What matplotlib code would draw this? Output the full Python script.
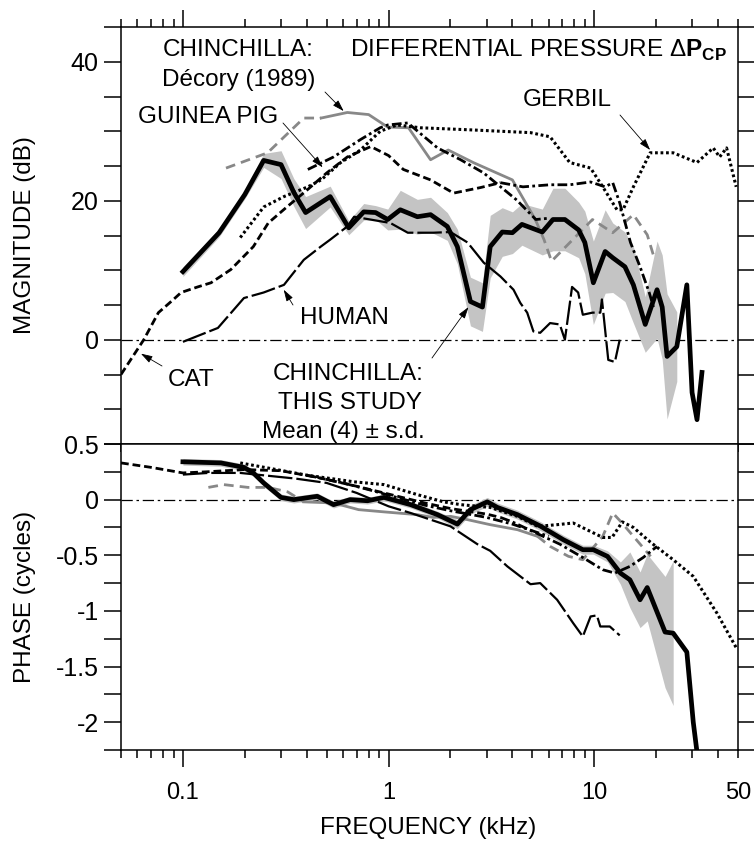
import numpy as np
import matplotlib
matplotlib.use('Agg')
import matplotlib.pyplot as plt
from matplotlib.ticker import LogLocator, FixedLocator, FuncFormatter, MultipleLocator

plt.rcParams['font.family'] = ['Liberation Sans', 'DejaVu Sans']
plt.rcParams['mathtext.fontset'] = 'custom'
plt.rcParams['mathtext.rm'] = 'Liberation Sans'
plt.rcParams['mathtext.bf'] = 'Liberation Sans:bold'
plt.rcParams['axes.unicode_minus'] = False

# ---- chinchilla, this study (mean of 4, +/- s.d.) ----
study_f = [0.1, 0.15, 0.2, 0.247, 0.3, 0.346, 0.395, 0.52, 0.64, 0.757, 0.865, 0.99,
           1.14, 1.38, 1.6, 1.93, 2.16, 2.5, 2.86, 3.12, 3.57, 4.0, 4.45, 5.59, 6.3,
           7.2, 8.4, 9.0, 9.9, 11.3, 12.3, 14.1, 15.5, 17.7, 20.2, 21.4, 22.6, 25.2,
           28.2, 29.9, 31.6, 33.4]
study_db = [9.8, 15.4, 20.9, 25.8, 25.2, 21.2, 18.3, 20.6, 16.1, 18.4, 18.3, 17.3,
            18.7, 17.7, 18.0, 16.3, 13.4, 5.5, 4.7, 13.4, 15.5, 15.4, 16.6, 15.5, 17.3,
            17.3, 15.8, 14.0, 8.2, 12.7, 11.8, 10.5, 7.9, 2.2, 7.2, 4.7, -2.4, -1.0,
            7.9, -7.6, -11.5, -4.7]
study_db_sd = [0.7, 0.6, 0.6, 1.0, 2.0, 2.0, 2.3, 1.5, 1.0, 1.2, 1.0, 1.5,
               2.8, 2.5, 2.5, 2.0, 2.5, 3.5, 3.5, 4.5, 3.5, 3.0, 3.0, 3.3, 4.5,
               4.5, 4.0, 4.5, 6.0, 6.0, 5.0, 5.0, 5.5, 4.0, 7.0, 7.5, 9.0, 5.0,
               np.nan, np.nan, np.nan, np.nan]

study_ph_f = [0.1, 0.153, 0.198, 0.22, 0.247, 0.3, 0.346, 0.45, 0.54, 0.65, 0.79, 0.95,
              1.28, 1.73, 2.16, 2.5, 3.02, 3.38, 4.23, 5.5, 7.07, 8.8, 9.9, 11.6, 13.4,
              14.9, 16.7, 18.1, 22.1, 24.2, 28.2, 30.3, 32.5]
study_ph = [0.34, 0.33, 0.29, 0.24, 0.15, 0.02, 0.0, 0.03, -0.045, 0.0, -0.01, 0.02,
            -0.045, -0.135, -0.22, -0.09, -0.02, -0.07, -0.135, -0.24, -0.36, -0.45, -0.45,
            -0.51, -0.66, -0.72, -0.9, -0.79, -1.19, -1.2, -1.37, -2.0, -2.45]
study_ph_sd = [0.03, 0.03, 0.03, 0.03, 0.03, 0.03, 0.03, 0.03, 0.03, 0.03, 0.03, 0.03,
               0.03, 0.03, 0.04, 0.04, 0.04, 0.04, 0.04, 0.04, 0.04, 0.04, 0.04, 0.05, 0.1,
               0.25, 0.25, 0.3, 0.5, 0.65, np.nan, np.nan, np.nan]

# ---- chinchilla, Decory (1989): dashed / solid / dashed parts ----
dec_lo_f = [0.162, 0.258, 0.387, 0.47]
dec_lo_db = [24.7, 26.9, 31.9, 31.9]
dec_f = [0.47, 0.63, 0.8, 0.99, 1.25, 1.6, 1.95, 2.58, 4.0, 5.17]
dec_db = [31.9, 32.7, 32.4, 30.6, 30.5, 25.9, 27.3, 25.5, 23.0, 17.3]
dec_hi_f = [5.17, 5.7, 6.2, 8.1, 9.8, 12.3, 15.5, 18.1, 19.7]
dec_hi_db = [17.3, 14.4, 11.3, 14.8, 17.3, 15.4, 18.0, 15.1, 11.5]

dec_ph_lo_f = [0.133, 0.158, 0.207, 0.26, 0.323, 0.387]
dec_ph_lo = [0.11, 0.135, 0.11, 0.11, 0.07, -0.02]
dec_ph_f = [0.387, 0.54, 0.715, 0.95, 1.38, 1.65, 2.0, 2.42, 3.12, 4.23, 5.3]
dec_ph = [-0.02, -0.03, -0.09, -0.11, -0.135, -0.16, -0.15, -0.18, -0.225, -0.27, -0.33]
dec_ph_hi_f = [5.3, 6.1, 7.5, 8.8, 11.0, 12.3, 13.5, 18.8]
dec_ph_hi = [-0.33, -0.42, -0.51, -0.54, -0.33, -0.12, -0.2, -0.51]

# ---- cat ----
cat_f = [0.05, 0.0645, 0.076, 0.09, 0.098, 0.118, 0.137, 0.171, 0.22, 0.26, 0.32, 0.4,
         0.5, 0.63, 0.82, 1.0, 1.18, 1.6, 2.07, 2.8, 3.5]
cat_db = [-5.0, 0.0, 3.9, 5.8, 6.8, 7.6, 8.2, 10.1, 13.4, 16.8, 19.1, 21.5,
          24.0, 26.3, 27.8, 26.5, 24.5, 23.0, 21.1, 21.9, 22.6]
cat_hi_f = [3.5, 4.5, 6.1, 7.6, 9.6, 11.3, 12.3, 13.3, 15.0, 16.7, 18.5, 19.4]
cat_hi_db = [22.6, 22.0, 22.3, 22.3, 22.7, 22.0, 22.6, 19.7, 14.0, 10.5, 6.8, 4.7]

cat_ph_f = [0.05, 0.07, 0.1, 0.13, 0.2, 0.3, 0.45, 0.7, 1.0, 1.5, 2.0, 3.0, 3.5]
cat_ph = [0.33, 0.29, 0.24, 0.25, 0.27, 0.26, 0.2, 0.12, 0.05, -0.03, -0.08, -0.13, -0.16]
cat_ph_hi_f = [3.5, 4.0, 5.5, 6.8, 8.8, 11.0, 12.6, 14.9, 17.3, 20.2]
cat_ph_hi = [-0.16, -0.2, -0.32, -0.4, -0.52, -0.63, -0.66, -0.6, -0.52, -0.42]

# ---- gerbil ----
ger_f = [0.19, 0.247, 0.31, 0.405, 0.47, 0.585, 0.73, 0.91, 1.1, 1.43, 2.5, 4.9, 6.1,
         7.6, 9.6, 11.0, 12.9, 13.8, 15.5, 18.7, 24.2, 31.6, 37.9, 40.7, 44.0, 49.0]
ger_db = [14.7, 19.1, 20.6, 22.0, 23.0, 25.5, 27.3, 30.0, 30.9, 30.5, 30.2, 29.8, 29.2,
          25.5, 24.7, 22.0, 18.7, 18.7, 22.0, 26.9, 26.9, 25.5, 27.6, 26.3, 27.6, 22.0]
ger_ph_f = [0.19, 0.4, 0.68, 0.95, 1.38, 1.85, 2.24, 3.12, 4.23, 5.3, 6.6, 7.9, 11.0,
            12.2, 13.7, 15.5, 18.7, 24.2, 30.3, 39.5, 49.0]
ger_ph = [0.33, 0.22, 0.16, 0.135, 0.045, -0.02, -0.045, -0.07, -0.15, -0.24, -0.225,
          -0.21, -0.34, -0.34, -0.2, -0.25, -0.38, -0.54, -0.69, -1.02, -1.33]

# ---- guinea pig ----
gp_f = [0.405, 0.54, 0.73, 0.91, 0.99, 1.24, 1.73, 2.24, 2.9, 4.2, 5.2, 6.1]
gp_db = [24.5, 26.3, 28.8, 30.5, 30.9, 31.2, 27.6, 25.9, 24.0, 20.1, 17.3, 17.5]
gp_ph_f = [0.4, 0.6, 0.8, 1.0, 1.5, 2.0, 3.0, 4.0, 5.0, 6.0]
gp_ph = [0.22, 0.15, 0.09, 0.04, -0.05, -0.1, -0.16, -0.22, -0.28, -0.33]

# ---- human ----
hum_f = [0.1, 0.148, 0.198, 0.247, 0.31, 0.387, 0.468, 0.52, 0.63, 0.68, 1.02, 1.24,
         1.65, 2.0, 2.42, 2.9, 3.5, 4.05, 4.37, 4.72, 5.06, 5.46, 6.1, 6.8, 7.2, 7.8,
         8.35, 8.8, 9.8, 10.7, 10.9, 11.7, 12.6, 13.3]
hum_db = [-0.3, 1.7, 6.0, 6.8, 7.9, 11.5, 13.4, 14.4, 16.3, 17.7, 16.8, 15.4,
          15.4, 15.5, 14.0, 11.1, 9.1, 7.2, 5.3, 3.9, 1.2, 1.0, 2.4, 2.2, 0.0, 7.6,
          6.8, 3.6, 3.9, 3.9, 5.8, -2.9, -3.2, 0.0]
hum_ph_f = [0.1, 0.133, 0.19, 0.35, 0.5, 0.7, 1.0, 1.28, 2.0, 2.7, 3.12, 3.78, 4.9,
            5.46, 6.6, 7.9, 8.8, 9.6, 10.3, 10.7, 11.9, 13.3]
hum_ph = [0.225, 0.24, 0.24, 0.19, 0.15, 0.06, -0.06, -0.12, -0.24, -0.4, -0.46, -0.6,
          -0.76, -0.75, -0.9, -1.11, -1.23, -1.05, -1.04, -1.14, -1.14, -1.22]

W, H = 754, 844


def P(x, y):
    return x / W, 1 - y / H


fig = plt.figure(figsize=(W / 100, H / 100), dpi=100)
ax1 = fig.add_axes([121 / W, 1 - 444 / H, 617 / W, 417 / H])
ax2 = fig.add_axes([121 / W, 1 - 750 / H, 617 / W, 306 / H], sharex=ax1)

GRAY = '#888888'
BAND = '#c4c4c4'

for ax in (ax1, ax2):
    ax.axhline(0, color='black', lw=0.9, dashes=(9, 3, 2, 3), zorder=1)

# magnitude
s = np.array(study_db)
sd = np.array(study_db_sd)
ax1.fill_between(study_f, s - sd, s + sd, color=BAND, lw=0, zorder=2)
ax1.plot(dec_lo_f, dec_lo_db, color=GRAY, lw=2.0, dashes=(3.5, 2.2), zorder=3)
ax1.plot(dec_f, dec_db, color=GRAY, lw=2.0, zorder=3)
ax1.plot(dec_hi_f, dec_hi_db, color=GRAY, lw=2.0, dashes=(3.5, 2.2), zorder=3)
ax1.plot(cat_f, cat_db, color='black', lw=2.0, dashes=(2.8, 1.4), zorder=4)
ax1.plot(cat_hi_f, cat_hi_db, color='black', lw=2.0, dashes=(3.5, 1.2, 1, 1.2), zorder=4)
ax1.plot(ger_f, ger_db, color='black', lw=2.2, dashes=(0.9, 0.9), zorder=4)
ax1.plot(gp_f, gp_db, color='black', lw=2.0, dashes=(3.5, 1.2, 1, 1.2), zorder=4)
ax1.plot(hum_f, hum_db, color='black', lw=1.6, dashes=(11, 1.8), zorder=4)
ax1.plot(study_f, study_db, color='black', lw=3.4, zorder=5)

# phase
p = np.array(study_ph)
psd = np.array(study_ph_sd)
ax2.fill_between(study_ph_f, p - psd, p + psd, color=BAND, lw=0, zorder=2)
ax2.plot(dec_ph_lo_f, dec_ph_lo, color=GRAY, lw=2.0, dashes=(3.5, 2.2), zorder=3)
ax2.plot(dec_ph_f, dec_ph, color=GRAY, lw=2.0, zorder=3)
ax2.plot(dec_ph_hi_f, dec_ph_hi, color=GRAY, lw=2.0, dashes=(3.5, 2.2), zorder=3)
ax2.plot(cat_ph_f, cat_ph, color='black', lw=2.0, dashes=(2.8, 1.4), zorder=4)
ax2.plot(cat_ph_hi_f, cat_ph_hi, color='black', lw=2.0, dashes=(3.5, 1.2, 1, 1.2), zorder=4)
ax2.plot(ger_ph_f, ger_ph, color='black', lw=2.2, dashes=(0.9, 0.9), zorder=4)
ax2.plot(gp_ph_f, gp_ph, color='black', lw=2.0, dashes=(3.5, 1.2, 1, 1.2), zorder=4)
ax2.plot(hum_ph_f, hum_ph, color='black', lw=1.6, dashes=(11, 1.8), zorder=4)
ax2.plot(study_ph_f, study_ph, color='black', lw=3.4, zorder=5)

# axes
ax1.set_xscale('log')
ax1.set_xlim(0.05, 50)
ax1.set_ylim(-15, 45)
ax2.set_ylim(-2.25, 0.5)

for ax in (ax1, ax2):
    for sp in ax.spines.values():
        sp.set_linewidth(1.1)
    ax.xaxis.set_major_locator(FixedLocator([0.1, 1, 10]))
    ax.xaxis.set_minor_locator(LogLocator(base=10, subs=np.arange(2, 10), numticks=20))
    ax.tick_params(axis='x', which='major', direction='out', length=12, width=1.1, pad=11)
    ax.tick_params(axis='x', which='minor', direction='out', length=6, width=1.1, pad=17)
    ax.tick_params(axis='y', which='both', direction='out', length=12, width=1.1,
                   left=True, right=True, labelsize=18, pad=4)

ax1.tick_params(axis='x', which='both', top=True, bottom=True, labelbottom=False)
ax2.tick_params(axis='x', which='both', top=False, bottom=True, labelsize=17)

ax2.xaxis.set_major_formatter(FuncFormatter(lambda v, pos: {0.1: '0.1', 1: '1', 10: '10'}.get(round(v, 3), '')))
ax2.xaxis.set_minor_formatter(FuncFormatter(lambda v, pos: '50' if abs(v - 50) < 0.5 else ''))

ax1.yaxis.set_major_locator(MultipleLocator(5))
ax1.yaxis.set_major_formatter(FuncFormatter(lambda v, pos: '%d' % v if round(v) in (0, 20, 40) else ''))
ax2.yaxis.set_major_locator(MultipleLocator(0.25))


def phase_fmt(v, pos):
    if abs(v * 2 - round(v * 2)) > 1e-6:
        return ''
    if abs(v) < 1e-9:
        return '0'
    return ('%g' % v)


ax2.yaxis.set_major_formatter(FuncFormatter(phase_fmt))

LABFS = 17.5
ax1.set_ylabel('MAGNITUDE (dB)', fontsize=LABFS, va='center')
ax1.yaxis.set_label_coords((25 - 121) / 617, 0.5)
ax2.set_ylabel('PHASE (cycles)', fontsize=LABFS, va='center')
ax2.yaxis.set_label_coords((25 - 121) / 617, 0.5)
fig.text(*P(428, 828), 'FREQUENCY (kHz)', fontsize=LABFS, ha='center', va='center')

# annotations
fs = 17.5
fig.text(*P(163, 50), 'CHINCHILLA:', fontsize=fs, va='center')
fig.text(*P(162, 80), 'Décory (1989)', fontsize=fs, va='center')
fig.text(*P(350, 50), r'DIFFERENTIAL PRESSURE Δ$\mathbf{P}_{\mathbf{CP}}$', fontsize=fs, va='center')
fig.text(*P(138, 117), 'GUINEA PIG', fontsize=fs, va='center')
fig.text(*P(523, 100), 'GERBIL', fontsize=fs, va='center')
fig.text(*P(300, 318), 'HUMAN', fontsize=fs, va='center')
fig.text(*P(168, 380), 'CAT', fontsize=fs, va='center')
fig.text(*P(348, 374), 'CHINCHILLA:', fontsize=fs, ha='center', va='center')
fig.text(*P(350, 403), 'THIS STUDY', fontsize=fs, ha='center', va='center')
fig.text(*P(343, 432), 'Mean (4) ± s.d.', fontsize=fs, ha='center', va='center')

arrow = dict(arrowstyle='-|>,head_length=0.7,head_width=0.22', lw=0.6, color='black',
             shrinkA=0, shrinkB=0)
arrows = [((0.605, 32.9), (325, 92)),
          ((0.478, 24.8), (283, 123)),
          ((18.7, 27.3), (620, 115)),
          ((0.309, 7.2), (293, 305)),
          ((0.0625, -2.0), (162, 366)),
          ((2.446, 4.7), (432, 358))]
for xy, tail in arrows:
    ax1.annotate('', xy=xy, xycoords='data', xytext=P(*tail), textcoords='figure fraction',
                 arrowprops=arrow, zorder=6)

fig.savefig('out.png', dpi=100)
